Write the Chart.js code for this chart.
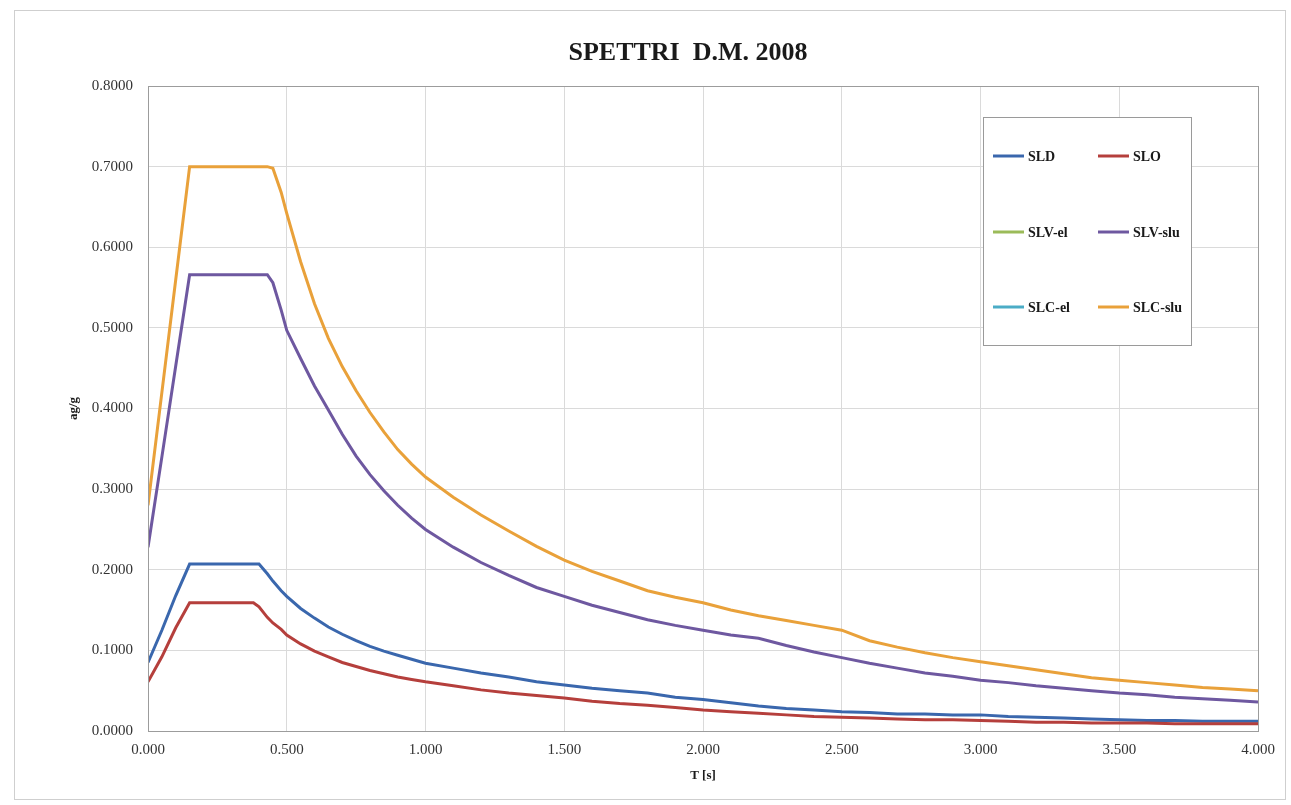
<!DOCTYPE html>
<html>
<head>
<meta charset="utf-8">
<script src="https://cdn.jsdelivr.net/npm/chart.js@4.4.1/dist/chart.umd.min.js"></script>
<style>
  html, body { margin: 0; padding: 0; background: #ffffff; }
  #wrap { position: relative; width: 1291px; height: 805px; }
  #frame { position: absolute; left: 14px; top: 10px; width: 1272px; height: 790px; border: 1px solid #cfcfcf; box-sizing: border-box; pointer-events: none; }
  canvas { position: absolute; left: 0; top: 0; }
</style>
</head>
<body>
<div id="wrap">
  <canvas id="c" width="1291" height="805"></canvas>
  <div id="frame"></div>
</div>
<script>
// Period T [s]
const T = [0.00, 0.05, 0.10, 0.15, 0.20, 0.25, 0.30, 0.35, 0.38, 0.40, 0.43, 0.45, 0.48, 0.50,
  0.55, 0.60, 0.65, 0.70, 0.75, 0.80, 0.85, 0.90, 0.95, 1.00, 1.10, 1.20, 1.30, 1.40, 1.50,
  1.60, 1.70, 1.80, 1.90, 2.00, 2.10, 2.20, 2.30, 2.40, 2.50, 2.60, 2.70, 2.80, 2.90, 3.00,
  3.10, 3.20, 3.30, 3.40, 3.50, 3.60, 3.70, 3.80, 3.90, 4.00];

const SLD = [0.085, 0.125, 0.168, 0.207, 0.207, 0.207, 0.207, 0.207, 0.207, 0.207, 0.195, 0.186, 0.174, 0.167,
  0.152, 0.140, 0.129, 0.120, 0.112, 0.105, 0.099, 0.094, 0.089, 0.084, 0.078, 0.072, 0.067, 0.061, 0.057,
  0.053, 0.050, 0.047, 0.042, 0.039, 0.035, 0.031, 0.028, 0.026, 0.024, 0.023, 0.021, 0.021, 0.020, 0.020,
  0.018, 0.017, 0.016, 0.015, 0.014, 0.013, 0.013, 0.012, 0.012, 0.012];

const SLO = [0.061, 0.092, 0.128, 0.159, 0.159, 0.159, 0.159, 0.159, 0.159, 0.154, 0.141, 0.134, 0.126, 0.119,
  0.108, 0.099, 0.092, 0.085, 0.080, 0.075, 0.071, 0.067, 0.064, 0.061, 0.056, 0.051, 0.047, 0.044, 0.041,
  0.037, 0.034, 0.032, 0.029, 0.026, 0.024, 0.022, 0.020, 0.018, 0.017, 0.016, 0.015, 0.014, 0.014, 0.013,
  0.012, 0.011, 0.011, 0.010, 0.010, 0.010, 0.009, 0.009, 0.009, 0.009];

const SLV_el = [];

const SLV_slu = [0.228, 0.340, 0.453, 0.566, 0.566, 0.566, 0.566, 0.566, 0.566, 0.566, 0.566, 0.556, 0.522, 0.497,
  0.462, 0.428, 0.398, 0.368, 0.341, 0.318, 0.298, 0.280, 0.264, 0.250, 0.228, 0.209, 0.193, 0.178, 0.167,
  0.156, 0.147, 0.138, 0.131, 0.125, 0.119, 0.115, 0.106, 0.098, 0.091, 0.084, 0.078, 0.072, 0.068, 0.063,
  0.060, 0.056, 0.053, 0.050, 0.047, 0.045, 0.042, 0.040, 0.038, 0.036];

const SLC_el = [];

const SLC_slu = [0.280, 0.420, 0.560, 0.700, 0.700, 0.700, 0.700, 0.700, 0.700, 0.700, 0.700, 0.698, 0.668, 0.642,
  0.582, 0.530, 0.487, 0.452, 0.422, 0.395, 0.371, 0.349, 0.331, 0.315, 0.290, 0.268, 0.248, 0.229, 0.212,
  0.198, 0.186, 0.174, 0.166, 0.159, 0.150, 0.143, 0.137, 0.131, 0.125, 0.112, 0.104, 0.097, 0.091, 0.086,
  0.081, 0.076, 0.071, 0.066, 0.063, 0.060, 0.057, 0.054, 0.052, 0.050];

const seriesNames = ["SLD", "SLO", "SLV-el", "SLV-slu", "SLC-el", "SLC-slu"];
const seriesValues = [SLD, SLO, SLV_el, SLV_slu, SLC_el, SLC_slu];
const seriesColors = ["#3a67ad", "#b53f3c", "#9bbb59", "#6e58a0", "#4bacc6", "#e9a13a"];

const yTicks = [0, 0.1, 0.2, 0.3, 0.4, 0.5, 0.6, 0.7, 0.8];
const xTicks = [0, 0.5, 1.0, 1.5, 2.0, 2.5, 3.0, 3.5, 4.0];

const chartTitle = 'SPETTRI  D.M. 2008';

const SERIF = "'Liberation Serif', 'Times New Roman', serif";

const datasets = seriesNames.map((name, i) => ({
  label: name,
  data: seriesValues[i].map((v, k) => ({ x: T[k], y: v })),
  borderColor: seriesColors[i],
  backgroundColor: seriesColors[i],
  borderWidth: 3,
  pointRadius: 0,
  tension: 0,
  fill: false,
  order: seriesNames.length - i
}));

const frameAndLegend = {
  id: 'frameAndLegend',
  afterDraw(chart) {
    const ctx = chart.ctx;
    const a = chart.chartArea;
    ctx.save();
    ctx.strokeStyle = '#9c9c9c';
    ctx.lineWidth = 1;
    ctx.strokeRect(Math.round(a.left) + 0.5, Math.round(a.top) + 0.5,
      Math.round(a.right - a.left), Math.round(a.bottom - a.top));

    // Title
    ctx.fillStyle = '#1a1a1a';
    ctx.font = "bold 26px " + SERIF;
    ctx.textAlign = 'center';
    ctx.textBaseline = 'middle';
    ctx.fillText(chartTitle, 688, 53);

    // Legend box
    const bx = 983, by = 117, bw = 208, bh = 228;
    ctx.fillStyle = '#ffffff';
    ctx.fillRect(bx, by, bw, bh);
    ctx.strokeStyle = '#9a9a9a';
    ctx.lineWidth = 1;
    ctx.strokeRect(bx + 0.5, by + 0.5, bw, bh);
    const colX = [993, 1098];
    const rowY = [156, 232, 307];
    ctx.font = "bold 14px " + SERIF;
    ctx.textBaseline = 'middle';
    ctx.textAlign = 'left';
    chart.data.datasets.forEach((ds, i) => {
      const x = colX[i % 2];
      const y = rowY[Math.floor(i / 2)];
      ctx.strokeStyle = ds.borderColor;
      ctx.lineWidth = 3;
      ctx.beginPath();
      ctx.moveTo(x, y);
      ctx.lineTo(x + 31, y);
      ctx.stroke();
      ctx.fillStyle = '#1a1a1a';
      ctx.fillText(ds.label, x + 35, y + 1);
    });
    ctx.restore();
  }
};

new Chart(document.getElementById('c'), {
  type: 'line',
  data: { datasets },
  plugins: [frameAndLegend],
  options: {
    responsive: false,
    animation: false,
    devicePixelRatio: 1,
    layout: { padding: { left: 62, right: 33, top: 86, bottom: 10 } },
    plugins: {
      legend: { display: false },
      tooltip: { enabled: false },
      title: { display: false }
    },
    scales: {
      x: {
        type: 'linear',
        min: 0, max: 4,
        afterBuildTicks(scale) { scale.ticks = xTicks.map(v => ({ value: v })); },
        afterFit(scale) { scale.height = 64; },
        ticks: {
          color: '#333333',
          font: { family: SERIF, size: 15 },
          padding: 10,
          maxRotation: 0,
          callback: v => Number(v).toFixed(3)
        },
        grid: { color: '#dadada', lineWidth: 1, drawTicks: false },
        border: { color: '#9c9c9c' },
        title: {
          display: true, text: 'T [s]', color: '#1a1a1a',
          font: { family: SERIF, size: 13, weight: 'bold' },
          padding: { top: 0, bottom: 12 }
        }
      },
      y: {
        type: 'linear',
        min: 0, max: 0.8,
        afterBuildTicks(scale) { scale.ticks = yTicks.map(v => ({ value: v })); },
        afterFit(scale) { scale.width = 86; },
        ticks: {
          color: '#333333',
          font: { family: SERIF, size: 15 },
          padding: 15,
          callback: v => Number(v).toFixed(4)
        },
        grid: { color: '#dadada', lineWidth: 1, drawTicks: false },
        border: { color: '#9c9c9c' },
        title: {
          display: true, text: 'ag/g', color: '#1a1a1a',
          font: { family: SERIF, size: 13, weight: 'bold' },
          padding: { top: 4, bottom: 0 }
        }
      }
    }
  }
});
</script>
</body>
</html>
